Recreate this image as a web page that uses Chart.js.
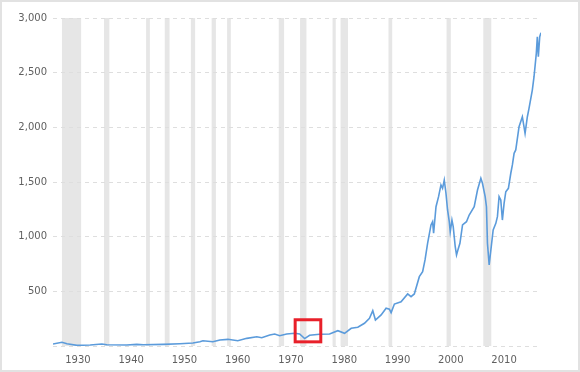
<!DOCTYPE html>
<html>
<head>
<meta charset="utf-8">
<script src="https://cdn.jsdelivr.net/npm/chart.js@4/dist/chart.umd.min.js"></script>
<style>
  html, body { margin: 0; padding: 0; background: #fff; }
  #wrap { width: 580px; height: 372px; position: relative; }
  canvas { display: block; }
</style>
</head>
<body>
<div id="wrap"><canvas id="c" width="580" height="372"></canvas></div>
<script>
// ---- data (x in the chart's year axis) ----
const years = [
  1925.32, 1927.00, 1927.94, 1929.81, 1932.30, 1934.49, 1935.43, 1939.17, 1941.05, 1942.28,
  1945.97, 1949.15, 1951.59, 1952.90, 1953.46, 1955.34, 1956.65, 1958.15, 1960.01, 1961.70,
  1963.57, 1964.51, 1966.01, 1966.94, 1967.88, 1969.19, 1970.69, 1971.62, 1972.56, 1973.49,
  1975.36, 1977.24, 1978.79, 1980.05, 1981.30, 1982.54, 1983.79, 1984.73, 1985.35, 1985.85,
  1986.92, 1987.85, 1988.47, 1988.79, 1989.41, 1990.66, 1991.90, 1992.53, 1993.15, 1994.09,
  1994.71, 1995.16, 1995.64, 1996.28, 1996.58, 1996.77, 1997.22, 1997.70, 1998.15, 1998.45,
  1998.77, 1999.09, 1999.39, 1999.71, 1999.89, 2000.21, 2000.45, 2000.83, 2001.07, 2001.33,
  2001.71, 2002.20, 2002.94, 2003.45, 2004.39, 2005.01, 2005.64, 2005.94, 2006.45, 2006.69,
  2006.88, 2007.20, 2007.52, 2007.95, 2008.45, 2008.75, 2009.06, 2009.38, 2009.68, 2010.00,
  2010.32, 2010.81, 2011.26, 2011.56, 2011.88, 2012.19, 2012.81, 2013.43, 2013.94, 2014.37,
  2014.68, 2015.30, 2015.62, 2016.05, 2016.24, 2016.43, 2016.69, 2016.93
];
const values = [
  18, 34, 21, 6, 9, 18, 12, 9, 15, 12,
  15, 21, 28, 39, 48, 39, 55, 61, 48, 70,
  85, 76, 100, 110, 94, 110, 116, 110, 68, 98,
  107, 110, 140, 116, 162, 171, 208, 253, 323, 238,
  284, 345, 336, 305, 384, 405, 476, 451, 476, 634,
  680, 787, 939, 1107, 1137, 1031, 1274, 1366, 1473, 1442,
  1518, 1397, 1244, 1137, 1045, 1152, 1091, 908, 832, 878,
  939, 1107, 1137, 1198, 1274, 1427, 1534, 1488, 1366, 1274,
  939, 741, 878, 1061, 1122, 1183, 1366, 1335, 1152, 1305,
  1411, 1442, 1580, 1656, 1762, 1793, 2006, 2097, 1945, 2097,
  2174, 2341, 2463, 2677, 2829, 2646, 2829, 2866
];
// shaded periods (chart's year axis)
const bandStarts = [1927.0, 1934.9, 1942.8, 1946.3, 1951.2, 1955.1, 1958.0, 1967.7, 1971.7, 1977.8, 1979.3, 1988.3, 1999.2, 2006.1];
const bandEnds   = [1930.6, 1935.9, 1943.5, 1947.2, 1952.0, 1955.9, 1958.7, 1968.7, 1972.9, 1978.4, 1980.7, 1989.0, 2000.0, 2007.6];
const xTickYears = [1930, 1940, 1950, 1960, 1970, 1980, 1990, 2000, 2010];
const yTickValues = [0, 500, 1000, 1500, 2000, 2500, 3000];
// highlighted box (years / values)
const boxYears = [1970.78, 1975.59];
const boxValues = [38, 240];

const points = years.map((y, i) => ({ x: y, y: values[i] }));

const decor = {
  id: 'decor',
  beforeDraw(chart) {
    const { ctx, chartArea: a, scales: { x } } = chart;
    ctx.save();
    ctx.fillStyle = '#ffffff';
    ctx.fillRect(0, 0, chart.width, chart.height);
    ctx.strokeStyle = '#e2e2e2';
    ctx.lineWidth = 2;
    ctx.strokeRect(1, 1, chart.width - 2, chart.height - 2);
    ctx.fillStyle = '#e6e6e6';
    bandStarts.forEach((s, i) => {
      const x0 = x.getPixelForValue(s);
      const x1 = x.getPixelForValue(bandEnds[i]);
      ctx.fillRect(x0, a.top, x1 - x0, a.bottom - a.top);
    });
    ctx.restore();
  },
  afterDatasetsDraw(chart) {
    const { ctx, scales: { x, y } } = chart;
    const x0 = x.getPixelForValue(boxYears[0]);
    const x1 = x.getPixelForValue(boxYears[1]);
    const y0 = y.getPixelForValue(boxValues[1]);
    const y1 = y.getPixelForValue(boxValues[0]);
    ctx.save();
    ctx.strokeStyle = '#e8202a';
    ctx.lineWidth = 3;
    ctx.strokeRect(x0, y0, x1 - x0, y1 - y0);
    ctx.restore();
  }
};

const FONT = { family: 'DejaVu Sans', size: 10 };

new Chart(document.getElementById('c'), {
  type: 'line',
  data: {
    datasets: [{
      data: points,
      borderColor: '#5b9bdb',
      borderWidth: 1.6,
      pointRadius: 0,
      tension: 0,
      fill: false
    }]
  },
  options: {
    responsive: false,
    animation: false,
    events: [],
    layout: { padding: { left: 0, top: 18, right: 39, bottom: 0 } },
    plugins: { legend: { display: false }, tooltip: { enabled: false } },
    scales: {
      x: {
        type: 'linear',
        min: years[0],
        max: years[years.length - 1],
        afterBuildTicks(scale) { scale.ticks = xTickYears.map(v => ({ value: v })); },
        afterFit(scale) { scale.height = 26; },
        grid: { display: false, drawTicks: false },
        border: { display: false },
        ticks: {
          color: '#606060', font: FONT, padding: 8, maxRotation: 0,
          callback: v => String(v)
        }
      },
      y: {
        min: 0, max: 3000,
        afterBuildTicks(scale) { scale.ticks = yTickValues.map(v => ({ value: v })); },
        afterFit(scale) { scale.width = 53; },
        grid: { color: '#dedede', lineWidth: 1, drawTicks: false },
        border: { display: false, dash: [4, 4] },
        ticks: {
          color: '#606060', font: FONT, padding: 6,
          callback: v => v === 0 ? '' : v.toLocaleString('en-US')
        }
      }
    }
  },
  plugins: [decor]
});
</script>
</body>
</html>
